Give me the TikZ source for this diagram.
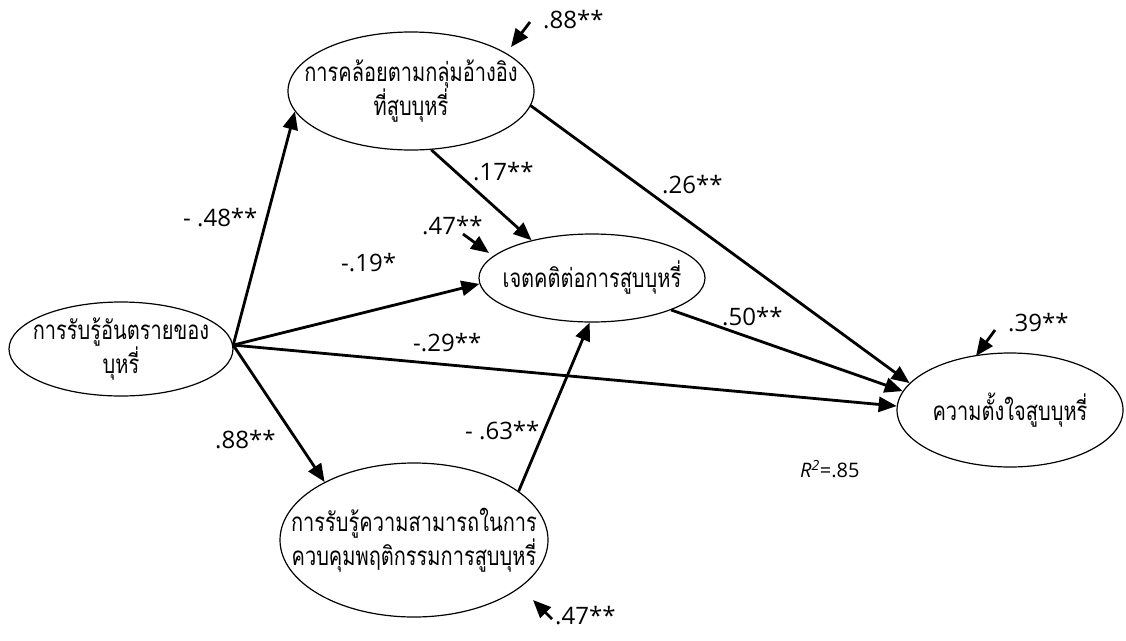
\documentclass[tikz,border=0pt]{standalone}
\usepackage{fontspec}
\setmainfont{Open Sans}
\newfontfamily\thaifont[Script=Thai,FakeStretch=0.77]{Loma}
\usetikzlibrary{shapes.geometric,arrows.meta}
\tikzset{
  var/.style={draw, ellipse, line width=1.2pt, inner sep=0pt},
  thai/.style={font=\thaifont\fontsize{26}{34}\selectfont, align=center},
  arr/.style={line width=2.8pt, -{Triangle[length=18pt,width=15pt]}},
  coef/.style={font=\fontsize{24}{28}\selectfont, inner sep=0pt},
}
\begin{document}
\begin{tikzpicture}[x=1pt,y=-1pt]
\useasboundingbox (0,0) rectangle (1126,640);
% variables
\node[var, minimum width=224pt, minimum height=94pt,
  label={[thai]center:การรับรู้อันตรายของ\\บุหรี่}] (e1) at (121,349) {};
\node[var, minimum width=246pt, minimum height=118pt,
  label={[thai]center:การคล้อยตามกลุ่มอ้างอิง\\ที่สูบบุหรี่}] (e2) at (411,91) {};
\node[var, minimum width=226pt, minimum height=88pt,
  label={[thai]center:เจตคติต่อการสูบบุหรี่}] (e3) at (592,278) {};
\node[var, minimum width=226pt, minimum height=114pt,
  label={[thai]center:ความตั้งใจสูบบุหรี่}] (e4) at (1010,410) {};
\node[var, minimum width=268pt, minimum height=154pt,
  label={[thai]center:การรับรู้ความสามารถในการ\\ควบคุมพฤติกรรมการสูบบุหรี่}] (e5) at (414,540) {};
% paths
\draw[arr] (e1.2.6) -- (e2.190.9);
\draw[arr] (e1.2.6) -- (e3.183.6);
\draw[arr] (e1.2.6) -- (e4.178.5);
\draw[arr] (e1.2.6) -- (e5.147.2);
\draw[arr] (e2.289.6) -- (e3.148.5);
\draw[arr] (e2.353.9) -- (e4.165.3);
\draw[arr] (e3.338.3) -- (e4.170.8);
\draw[arr] (e5.25.7) -- (e3.267.4);
% error terms
\coordinate (d2t) at (530,22);  \coordinate (d2h) at (511,47);
\coordinate (d3t) at (463,234); \coordinate (d3h) at (489,253);
\coordinate (d4t) at (995,330); \coordinate (d4h) at (976,356);
\coordinate (d5t) at (552,619); \coordinate (d5h) at (533,600);
\draw[arr] (d2t) -- (d2h);
\draw[arr] (d3t) -- (d3h);
\draw[arr] (d4t) -- (d4h);
\draw[arr] (d5t) -- (d5h);
% coefficients
\node[coef, anchor=west] (c1) at (183,218) {- .48**};
\node[coef, anchor=west] (c2) at (543,20) {.88**};
\node[coef, anchor=west] (c3) at (473,172) {.17**};
\node[coef, anchor=west] (c4) at (662,185) {.26**};
\node[coef, anchor=west] (c5) at (422,226) {.47**};
\node[coef, anchor=west] (c6) at (341,263) {-.19*};
\node[coef, anchor=west] (c7) at (413,343) {-.29**};
\node[coef, anchor=west] (c8) at (722,317) {.50**};
\node[coef, anchor=west] (c9) at (1008,323) {.39**};
\node[coef, anchor=west] (c10) at (215,440) {.88**};
\node[coef, anchor=west] (c11) at (465,431) {- .63**};
\node[coef, anchor=west] (c12) at (555,616) {.47**};
\node[coef, anchor=west, font=\fontsize{20}{24}\selectfont] (r2) at (800,469) {\textit{R}\textsuperscript{\itshape 2}=.85};
\end{tikzpicture}
\end{document}
